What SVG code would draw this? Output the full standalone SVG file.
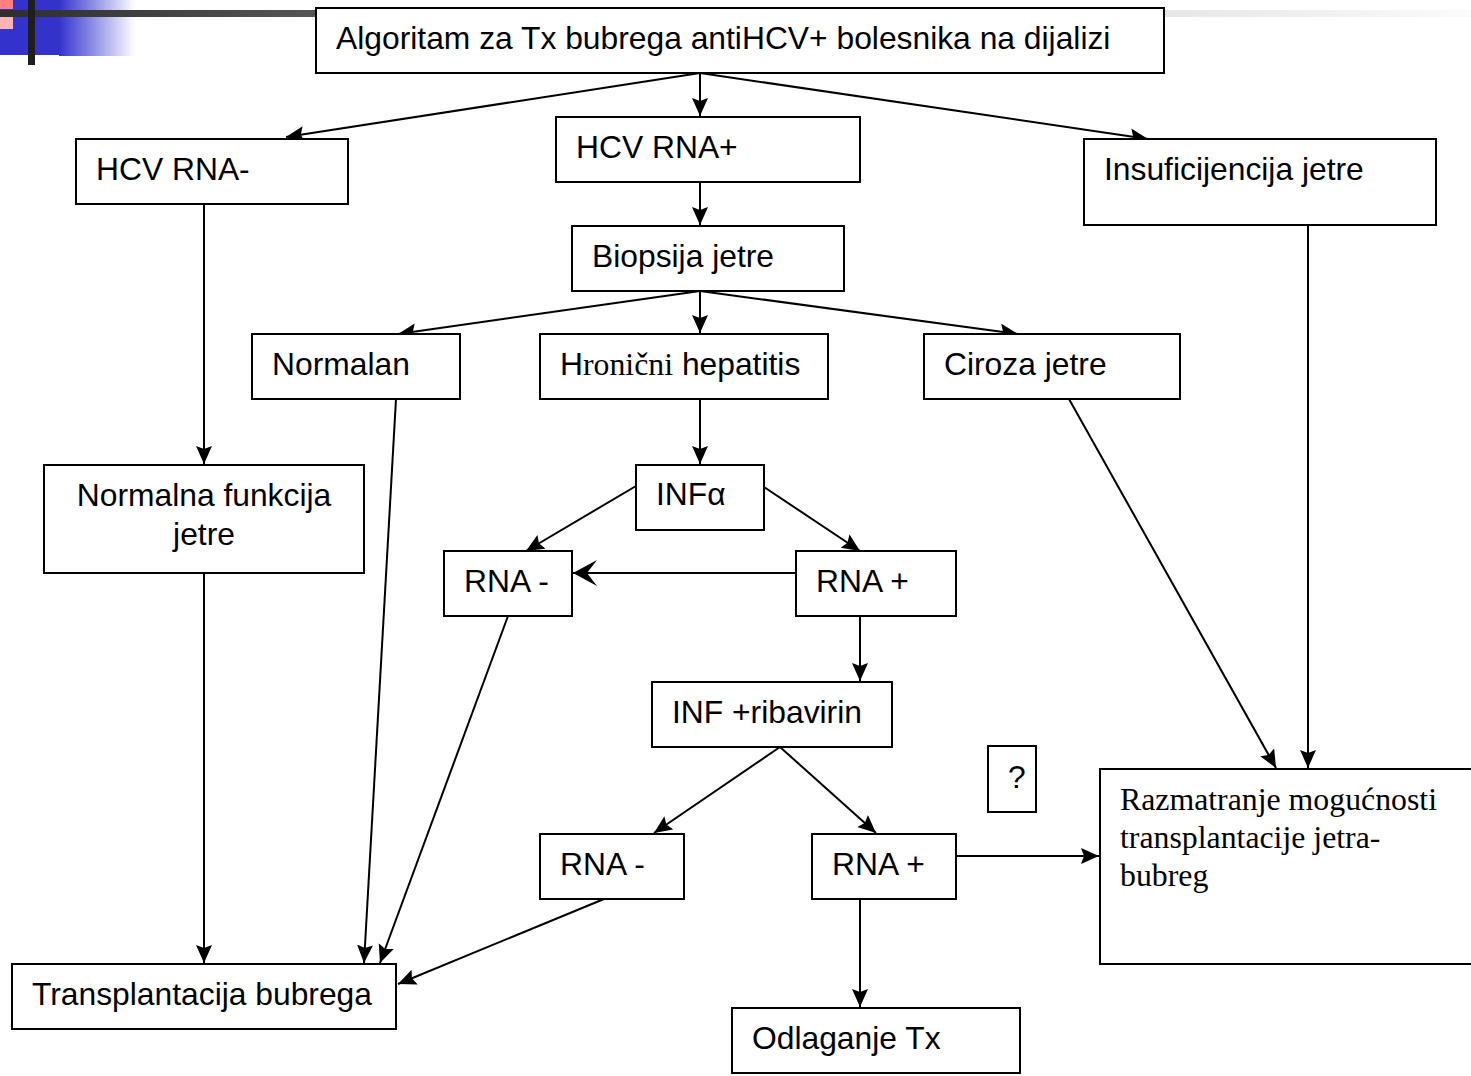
<svg xmlns="http://www.w3.org/2000/svg" width="1471" height="1076" viewBox="0 0 1471 1076">
<style>
.box{fill:#fff;stroke:#000;stroke-width:2}
.t{font-family:"Liberation Sans",Arial,sans-serif;font-size:31.8px;fill:#000}
.s{font-family:"Liberation Serif","Times New Roman",serif;font-size:31.8px;fill:#000}
.c{fill:none;stroke:#000;stroke-width:2;marker-end:url(#ah)}
</style>
<defs>
<marker id="ah" markerUnits="userSpaceOnUse" markerWidth="20" markerHeight="18" refX="18" refY="8" orient="auto" viewBox="0 0 20 18">
<path d="M0,0 L18,8 L0,16 L3,8 z" fill="#000"/>
</marker>
<marker id="st" markerUnits="userSpaceOnUse" markerWidth="26" markerHeight="28" refX="24" refY="13" orient="auto" viewBox="0 0 26 28">
<path d="M0,0 L24,13 L0,26 L10,13 z" fill="#000"/>
</marker>
<linearGradient id="bluefade" x1="0" x2="1" y1="0" y2="0">
<stop offset="0" stop-color="#3333cc"/>
<stop offset="1" stop-color="#ffffff"/>
</linearGradient>
<linearGradient id="barL" x1="0" x2="1" y1="0" y2="0">
<stop offset="0" stop-color="#2e2e2e"/>
<stop offset="1" stop-color="#555"/>
</linearGradient>
<linearGradient id="barR" x1="0" x2="1" y1="0" y2="0">
<stop offset="0" stop-color="#e6e6e6"/>
<stop offset="1" stop-color="#fbfbfb"/>
</linearGradient>
</defs>
<g id="decoration">
<rect x="0" y="0" width="59" height="55" fill="#3333cc"/>
<rect x="59" y="0" width="76" height="56" fill="url(#bluefade)"/>
<rect x="0" y="0" width="13" height="9" fill="#ff8080"/>
<rect x="0" y="17" width="13" height="12" fill="#ffb3b3"/>
<rect x="0" y="10" width="316" height="7" fill="url(#barL)"/>
<rect x="28" y="0" width="7" height="65" fill="#1e1e1e"/>
<rect x="1165" y="10" width="306" height="7" fill="url(#barR)"/>
</g>
<g id="connectors">
<path class="c" d="M700,73 L286,137"/>
<path class="c" d="M700,73 L700,116"/>
<path class="c" d="M700,73 L1148,139"/>
<path class="c" d="M700,182 L700,225"/>
<path class="c" d="M700,291 L398,334"/>
<path class="c" d="M700,291 L700,333"/>
<path class="c" d="M700,291 L1018,334"/>
<path class="c" d="M204,204 L204,464"/>
<path class="c" d="M204,573 L204,963"/>
<path class="c" d="M396,399 L364,963"/>
<path class="c" d="M700,399 L700,464"/>
<path class="c" d="M636,486 L526,551"/>
<path class="c" d="M764,487 L860,551"/>
<path fill="none" stroke="#000" stroke-width="2" marker-end="url(#st)" d="M796,573 L573,573"/>
<path class="c" d="M508,616 L380,963"/>
<path class="c" d="M860,616 L860,681"/>
<path class="c" d="M780,747 L654,833"/>
<path class="c" d="M780,747 L876,833"/>
<path class="c" d="M604,899 L398,984"/>
<path class="c" d="M956,856 L1099,856"/>
<path class="c" d="M860,899 L860,1007"/>
<path class="c" d="M1069,399 L1276,768"/>
<path class="c" d="M1308,225 L1308,768"/>
</g>
<g id="n_title"><rect class="box" x="316" y="8" width="848" height="65"/><text class="t" x="336" y="49">Algoritam za Tx bubrega antiHCV+ bolesnika na dijalizi</text></g>
<g id="n_hcvneg"><rect class="box" x="76" y="139" width="272" height="65"/><text class="t" x="96" y="180">HCV RNA-</text></g>
<g id="n_hcvpos"><rect class="box" x="556" y="117" width="304" height="65"/><text class="t" x="576" y="158">HCV RNA+</text></g>
<g id="n_insuf"><rect class="box" x="1084" y="139" width="352" height="86"/><text class="t" x="1104" y="180">Insuficijencija jetre</text></g>
<g id="n_biopsija"><rect class="box" x="572" y="226" width="272" height="65"/><text class="t" x="592" y="267">Biopsija jetre</text></g>
<g id="n_normalan"><rect class="box" x="252" y="334" width="208" height="65"/><text class="t" x="272" y="375">Normalan</text></g>
<g id="n_hronicni"><rect class="box" x="540" y="334" width="288" height="65"/><text class="t" x="560" y="375">H<tspan class="s">ronični</tspan> hepatitis</text></g>
<g id="n_ciroza"><rect class="box" x="924" y="334" width="256" height="65"/><text class="t" x="944" y="375">Ciroza jetre</text></g>
<g id="n_normfunk"><rect class="box" x="44" y="465" width="320" height="108"/><text class="t" x="204" y="506" text-anchor="middle">Normalna funkcija</text><text class="t" x="204" y="545" text-anchor="middle">jetre</text></g>
<g id="n_infa"><rect class="box" x="636" y="465" width="128" height="65"/><text class="t" x="656" y="505">INFα</text></g>
<g id="n_rnaneg1"><rect class="box" x="444" y="551" width="128" height="65"/><text class="t" x="464" y="592">RNA -</text></g>
<g id="n_rnapos1"><rect class="box" x="796" y="551" width="160" height="65"/><text class="t" x="816" y="592">RNA +</text></g>
<g id="n_infrib"><rect class="box" x="652" y="682" width="240" height="65"/><text class="t" x="672" y="723">INF +ribavirin</text></g>
<g id="n_q"><rect class="box" x="988" y="746" width="48" height="66"/><text class="t" x="1008" y="788">?</text></g>
<g id="n_razm"><rect class="box" x="1100" y="769" width="380" height="195"/><text class="s" x="1120" y="810">Razmatranje mogućnosti</text><text class="s" x="1120" y="848">transplantacije jetra-</text><text class="s" x="1120" y="886">bubreg</text></g>
<g id="n_rnaneg2"><rect class="box" x="540" y="834" width="144" height="65"/><text class="t" x="560" y="875">RNA -</text></g>
<g id="n_rnapos2"><rect class="box" x="812" y="834" width="144" height="65"/><text class="t" x="832" y="875">RNA +</text></g>
<g id="n_transpl"><rect class="box" x="12" y="964" width="384" height="65"/><text class="t" x="32" y="1005">Transplantacija bubrega</text></g>
<g id="n_odlaganje"><rect class="box" x="732" y="1008" width="288" height="65"/><text class="t" x="752" y="1049">Odlaganje Tx</text></g>
</svg>
